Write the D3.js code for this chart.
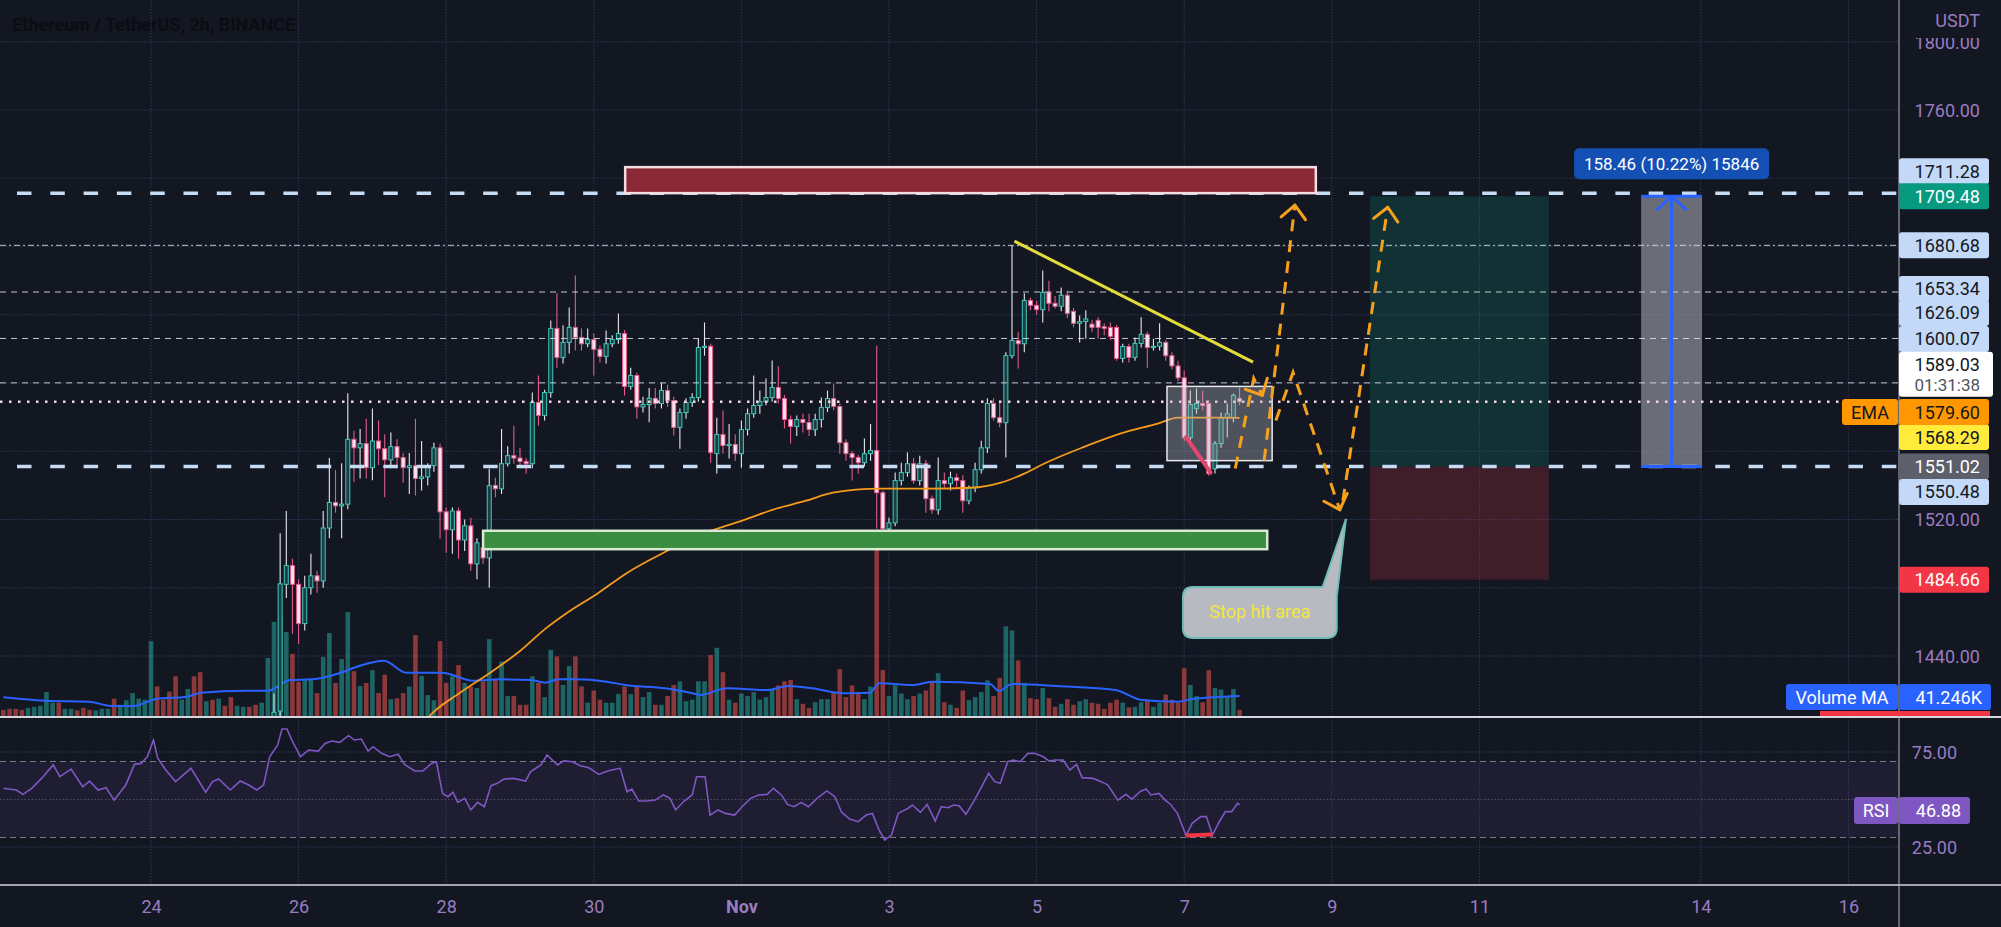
<!DOCTYPE html>
<html><head><meta charset="utf-8">
<script src="https://cdn.jsdelivr.net/npm/d3@7"></script>
<style>html,body{margin:0;padding:0;background:#131722;overflow:hidden}svg{display:block}text{font-family:Roboto,'Noto Sans',sans-serif}</style>
</head><body><svg id="c" width="2001" height="927"></svg>
<script>
// ---------------- DATA ----------------
const title = "Ethereum / TetherUS, 2h, BINANCE";
const startDate = "2022-10-22T00:00:00Z";   // first 2h bar (index 0)
const candleStart = 44;                      // first bar whose candle is inside the visible price range
// [open, high, low, close] for bars 44..201
const candles = [
[1390,1418,1385,1407],[1407.7,1512,1402,1482.3],[1482,1525,1474,1493],[1493,1497,1453,1482],[1482,1485,1447,1459],
[1459,1487,1455,1480],[1480,1500,1476,1487],[1487,1490,1477,1484],[1484,1525,1480,1515],[1515,1556,1509,1530],
[1530,1549,1524,1528],[1528,1553,1509,1529],[1529,1594,1526,1567],[1567,1572,1542,1562],[1562,1573,1544,1564.5],
[1564.5,1579,1544,1550.4],[1550.4,1585,1543,1566],[1566,1578,1552,1561.5],[1561.5,1570,1533,1555],[1555,1571,1550,1562.7],
[1562.7,1567,1550,1556.3],[1556.3,1559,1541.6,1550.4],[1550.4,1559,1535,1551.5],[1551.5,1579,1534,1544],[1544,1566,1537,1545],
[1545,1553,1540,1551.6],[1551.6,1565,1548,1562],[1562,1564.5,1508.7,1524.5],[1524.5,1527,1500.5,1514],[1514,1527,1500,1525],
[1525,1527,1497,1508],[1508,1520,1501.6,1516.3],[1516.3,1521,1490,1494],[1494,1509,1485,1506.3],[1503.4,1506,1494,1497.5],
[1497.5,1549.8,1480,1539.8],[1540,1544.5,1533,1538],[1538,1573,1535,1552.7],[1552.7,1563,1551,1557.4],[1557.4,1575,1552.7,1556],
[1556,1562,1550,1554],[1554,1556,1547,1552.7],[1552.7,1594.4,1550,1588.6],[1588.6,1604.4,1575,1581],[1581,1596,1578,1594.4],
[1594.4,1636.7,1591.5,1632],[1632,1652.6,1609,1615],[1615,1633.8,1611.4,1623.8],[1623.8,1644.3,1617.3,1632.6],[1632.6,1663,1619,1626.7],
[1626.7,1632,1619,1623],[1623,1632,1621,1625.5],[1625.5,1629,1604.4,1619.7],[1619.7,1622,1612,1615.6],[1615.6,1630.8,1611.4,1623],
[1623,1628,1621,1625.5],[1625.5,1640.8,1623,1629],[1629,1631,1592.7,1598],[1598,1609,1596,1604.4],[1604.4,1606,1579,1586],
[1586,1592,1582.7,1587.4],[1587.4,1597,1577,1591],[1591,1597,1585,1588],[1588,1600,1585,1595.6],[1595.6,1599,1586,1589.7],
[1589.7,1592,1569.2,1574],[1574,1585,1561.5,1582.7],[1582.7,1591,1579,1588.6],[1588.6,1594,1586,1591.5],[1591.5,1626,1589,1620.8],
[1620.8,1635.5,1616,1621.5],[1621.5,1623,1553.3,1559.2],[1558.6,1579.7,1546.9,1569.8],[1569.8,1583.9,1558.6,1563.3],[1563.3,1576,1555.7,1564],
[1564,1570,1554.5,1558.6],[1558.6,1578,1550.4,1572.7],[1572.7,1585,1569.2,1582],[1582,1604.4,1579.7,1586.8],[1586.8,1595.6,1582,1589.1],
[1589.1,1602.6,1587,1591.5],[1591.5,1613.2,1589,1597.4],[1597.4,1610,1588,1590.9],[1590.9,1593,1573.3,1578.6],[1578.6,1581,1564.5,1574.5],
[1574.5,1581,1569,1578.6],[1578.6,1582,1571,1576.8],[1576.8,1582,1569,1572.7],[1572.7,1582,1569,1578.6],[1578.6,1591.5,1573.9,1585.6],
[1585.6,1595.6,1583,1590.9],[1590.9,1599.7,1584,1586.2],[1586.2,1588,1558.6,1565],[1565,1567,1554.5,1558.6],[1558.6,1560,1542.8,1556.3],
[1556.3,1558,1546.9,1553.3],[1553.3,1567.4,1551,1558.6],[1558.6,1576,1554.5,1560.4],[1560.4,1622,1514.6,1535.7],[1535.7,1537,1511.6,1514.6],
[1514.6,1521,1507.5,1518],[1518,1547.5,1516,1542.8],[1542.8,1553.3,1540,1547.5],[1547.5,1559.2,1545,1552.7],[1552.7,1556,1541,1542.8],
[1542.8,1557.4,1540,1552.7],[1552.7,1555,1524,1532.2],[1532.2,1534,1523.4,1525.7],[1525.7,1556.3,1523,1542.8],[1542.8,1547.5,1538.6,1541],
[1541,1548,1537,1544.5],[1544.5,1547,1539,1542.8],[1542.8,1546,1524,1531],[1531,1540,1529,1538.6],[1538.6,1553.3,1536,1549.2],
[1549.2,1566.2,1547,1562],[1562,1591,1559,1588],[1588,1591,1578,1579.7],[1579.7,1589.7,1574,1576.8],[1576.8,1618,1556.3,1616],
[1616,1680.7,1614.4,1624.9],[1624.9,1630,1608.5,1623],[1623,1652.6,1618,1648.4],[1648.4,1650,1642.6,1645.5],[1645.5,1648,1640,1643],
[1643,1666,1635.5,1653.1],[1653.1,1660,1642,1646.7],[1646.7,1651,1643.7,1645],[1645,1656,1642,1651.4],[1651.4,1654,1637.9,1640.8],
[1642,1644,1632.6,1635],[1635,1639.6,1623.8,1636],[1636,1642.6,1626,1637.5],[1634.5,1637,1630,1632.6],[1636.7,1638.5,1626,1632.6],
[1633,1635,1628,1632],[1632.6,1635.5,1625,1627.3],[1632.6,1634,1613,1614.4],[1614.4,1623,1612,1621.4],[1621.4,1623,1612,1615],
[1615,1626.7,1613,1623.2],[1623.2,1638.5,1620.8,1628.5],[1628.5,1630,1609,1620.8],[1620.8,1626,1619,1621.5],[1621.5,1635,1619,1623.8],
[1623.8,1625,1613,1616],[1616,1618,1608,1610],[1610,1613,1601,1603],[1603,1607.3,1566,1568],[1568,1595.6,1564.5,1587.4],
[1585,1596.8,1582,1588],[1588,1595.6,1584,1586.8],[1588,1590,1545.7,1546.9],[1549.8,1566,1546.9,1564.5],[1564.5,1582.7,1562,1579.7],
[1579.7,1588,1568,1582],[1579.7,1593.8,1577,1592.7],[1591,1597.4,1587,1589]
];
// volume per bar (thousands), bars 0..201
const volumes = [14,16,16,14,18,20,22,49,28,28,16,16,13,18,14,13,16,16,36,24,33,47,36,34,149,60,34,50,80,34,
55,80,88,31,34,36,22,39,22,20,20,24,28,116,187,197,167,124,69,73,73,47,118,165,67,114,206,90,61,67,
92,47,83,35,37,47,60,161,81,43,33,149,67,80,102,67,60,57,70,153,73,109,41,41,24,24,80,67,39,132,
119,63,100,119,60,28,52,34,28,28,45,60,45,60,39,49,24,24,41,63,70,31,34,70,70,122,136,88,34,28,
46,41,49,34,39,55,62,70,73,35,26,18,29,35,35,47,94,39,62,49,35,60,352,92,41,62,46,35,41,46,
52,70,86,29,24,18,52,33,39,49,72,41,77,178,170,111,67,37,35,57,37,20,26,35,24,31,35,28,26,16,
28,34,28,19,20,29,34,20,28,44,34,28,96,63,41,29,92,57,54,39,55,14];
// direction (1 = up) of bars 0..43 whose candles lie below the visible range
const earlyUp = [0,0,0,0,1,1,1,1,1,0,1,1,0,0,0,1,1,1,0,1,1,1,1,1,1,0,0,0,0,1,1,0,0,1,0,1,0,0,1,1,0,0,1,1];
// Volume MA (bar index, thousands)
const volMAIdx = [0,3,6.8,13.9,17.7,21.2,24.8,29.9,32.1,39.4,43,46.6,50.2,54.6,57.5,61.9,65.5,71.3,76.4,80.7,85.8,88.1,90.2,93.1,98.1,101.1,107.6,112,113.3,117.7,124.2,127.7,131.5,136.5,140.9,142.4,148.1,151,160.4,161.9,164,171.3,180.8,185.1,191,193.1,196.7,201];
const volMAVal = [38.7,35.4,32,30,21.6,21.6,35.4,39.9,47.7,51.7,51.7,72.7,74,85.9,98.8,110.6,87,87,71.3,74,72.7,67.4,74,74,69.4,62.9,56.4,46.6,43.2,56.4,53,60.9,56.4,46.6,47.7,66.2,62.9,69.4,64.8,51.1,64.8,60.9,53,33.4,30,34.8,38.7,41.2];
// EMA (bar index, price)
const emaIdx = [68,69,74.2,79.1,84,88.1,92.1,96.5,101.4,108.9,113.3,115.5,120.6,125.6,130.5,134.9,142.4,149.9,157.3,162.2,166,169.2,175.4,181.6,187.7,191,197.2,201];
const emaVal = [1399,1403.6,1418.3,1430,1442.9,1455.9,1466.4,1476.4,1488.7,1503.4,1511.6,1514,1519.9,1526.3,1531,1535.7,1538.1,1538.1,1538.6,1541.6,1546.9,1552.7,1562.1,1570.3,1576.2,1579.7,1579.7,1579.6];
// RSI (bar index, value)
const rsiIdx = [0,0.8,2.1,3.2,4.6,6.2,8.1,9.2,11.0,12.9,14.0,15.4,16.7,18.0,19.9,21.3,22.4,23.4,24.4,25.1,26.4,28.0,30.5,32.9,34.0,35.0,36.9,38.5,39.9,41.2,42.3,43.3,44.6,45.3,46.1,46.9,48.3,49.6,51.2,52.3,53.4,54.7,56.1,57.1,58.2,59.3,60.1,61.5,62.8,64.2,65.2,66.9,68.2,69.6,70.4,71.4,72.3,73.1,73.9,75.0,76.0,77.1,78.2,79.3,80.3,81.4,83.0,84.9,85.7,87.4,88.4,90.1,91.1,92.5,93.8,95.2,96.8,97.9,98.9,100.3,101.4,102.2,103.3,104.6,106.0,107.3,108.4,109.3,110.7,112.0,112.7,114.1,114.9,116.2,117.4,118.9,120.1,121.5,122.8,124.2,125.2,126.5,127.5,128.6,129.7,130.9,132.3,133.9,135.2,136.3,137.6,139.0,140.3,141.3,142.4,143.3,144.4,145.5,147.1,147.8,149.1,150.2,151.5,152.5,153.6,154.5,155.4,156.5,157.9,159.2,160.2,161.2,162.1,163.3,164.2,165.3,166.6,167.7,169.1,170.0,171.0,172.3,173.4,174.5,175.4,177.2,178.5,179.6,181.2,182.5,183.5,184.8,185.8,186.6,187.9,188.9,189.8,190.9,192.3,193.3,194.7,195.6,196.6,197.7,198.7,199.7,200.7,201];
const rsiVal = [55.9,55.5,55.0,52.7,55.9,61.1,68.2,62.0,66.0,56.7,59.7,55.0,56.2,49.7,57.6,68.5,69.0,72.5,81.3,71.7,65.5,59.4,66.4,53.8,59.4,60.8,55.0,59.7,57.6,55.0,57.6,72.5,78.7,87.1,87.1,81.3,72.5,76.0,75.5,79.5,80.8,80.1,83.6,81.3,81.8,75.5,77.8,74.3,72.5,73.8,68.5,65.0,65.0,69.0,69.9,53.2,51.5,53.8,48.5,50.6,44.5,48.5,46.2,57.3,58.5,60.8,61.1,59.7,64.6,68.2,73.4,68.2,70.3,69.9,67.8,66.7,63.2,64.6,65.5,66.4,54.1,55.5,49.2,49.2,49.7,52.4,50.6,44.5,49.2,52.4,62.0,62.0,41.8,44.5,42.7,41.8,46.2,50.6,52.4,52.7,55.9,52.4,47.4,46.2,48.5,46.2,50.6,54.5,51.5,43.3,39.7,38.3,41.8,42.7,33.9,28.7,31.3,42.7,45.4,47.1,43.2,47.4,38.7,46.2,45.7,47.1,46.7,42.2,49.7,57.6,63.8,59.4,58.5,69.9,70.8,69.9,74.3,74.3,72.5,70.3,70.8,70.8,65.5,68.5,61.5,61.1,59.4,57.6,49.7,52.7,50.2,54.1,55.5,52.4,53.2,49.7,47.4,42.7,31.0,37.5,41.0,41.0,31.3,38.3,43.6,43.6,48.0,47.1];
const rsiDivergence = [[192.3,31.0],[196.6,31.6]];
// axes
const priceTicks = [1800,1760,1520,1440];
const gridPrices = [1440,1480,1520,1560,1600,1640,1680,1720,1760,1800];
const rsiTicks = [75,25];
const dateTicks = ["2022-10-24","2022-10-26","2022-10-28","2022-10-30","2022-11-01","2022-11-03","2022-11-05","2022-11-07","2022-11-09","2022-11-11","2022-11-14","2022-11-16"];
const dateLabels = ["24","26","28","30","Nov","3","5","7","9","11","14","16"];
// horizontal levels
const thinLevels = [1680.68,1653.34,1626.09,1600.07];
const thickLevels = [1711.28,1551.02];
const lastPrice = 1589.03;
const countdown = "01:31:38";
// drawings (bar index / price)
const resistZone = [101.1,213.4,1711.28,1726.5];
const supportZone = [78.0,205.5,1502.6,1513.4];
const consolBox = [189.2,206.3,1554.5,1598];
const trendLine = [[164.4,1683.1],[203.2,1612.2]];
const dropLine = [[192.3,1568.3],[196.3,1547.5]];
const longPos = {i0:222.2,i1:251.3,entry:1551.02,target:1709.48,stop:1484.66};
const measure = {i0:266.3,i1:276.2,from:1551.02,to:1709.48,text:"158.46 (10.22%) 15846"};
const forecast = [
  [[200.3,1549.9],[203.3,1602.7],[204.7,1592.7]],
  [[205.0,1554.5],[210.0,1704.2]],
  [[206.9,1578],[209.7,1606.2],[217.3,1525.7]],
  [[217.8,1531],[225.1,1703]]
];
const callout = {i0:191.8,i1:216.8,pTop:1480.5,pBot:1450.6,tip:[218.3,1520.3],text:"Stop hit area"};
// right-axis labels
const axisMarks = [
 {p:1711.28,dy:-22,bg:"#c3d9f7",fg:"#131722"},
 {p:1709.48,dy:0,bg:"#089981",fg:"#ffffff"},
 {p:1680.68,dy:0,bg:"#c3d9f7",fg:"#131722"},
 {p:1653.34,dy:-3,bg:"#c3d9f7",fg:"#131722"},
 {p:1626.09,dy:-25.5,bg:"#c3d9f7",fg:"#131722"},
 {p:1600.07,dy:-44,bg:"#c3d9f7",fg:"#131722"},
 {p:1568.29,dy:0,bg:"#ffeb3b",fg:"#131722"},
 {p:1551.02,dy:0,bg:"#5d606b",fg:"#ffffff"},
 {p:1550.48,dy:24.5,bg:"#c3d9f7",fg:"#131722"},
 {p:1484.66,dy:0,bg:"#f23645",fg:"#ffffff"}
];
const emaLast = 1579.60, volMALast = "41.246K", rsiLast = 46.88;

// ---------------- SCALES ----------------
const W=2001,H=927,AX=1899,MAINB=716,RSIT=718,RSIB=884;
const T0 = new Date(startDate).getTime(), H2 = 7200000;
const x = d3.scaleUtc().domain([new Date(T0), new Date("2022-11-16T00:00:00Z")]).range([3.4,1848.4]);
const xi = i => x(new Date(T0 + i*H2));
const y = d3.scaleLinear().domain([1440,1760]).range([656,110]);
const yv = d3.scaleLinear().domain([0,400]).range([717,513.4]);
const yr = d3.scaleLinear().domain([25,75]).range([847,752]);

const svg = d3.select('#c');
svg.append('rect').attr('width',W).attr('height',H).attr('fill','#131722');
const defs = svg.append('defs');
defs.append('clipPath').attr('id','cm').append('rect').attr('x',0).attr('y',0).attr('width',AX).attr('height',MAINB);
defs.append('clipPath').attr('id','cr').append('rect').attr('x',0).attr('y',RSIT).attr('width',AX).attr('height',RSIB-RSIT);

const GRID='#30355a';
// grid
const gGrid = svg.append('g').attr('stroke',GRID).attr('stroke-dasharray','1.5,1.5').attr('stroke-width',1);
gGrid.selectAll('line.h').data(gridPrices).join('line').attr('x1',0).attr('x2',AX).attr('y1',d=>y(d)).attr('y2',d=>y(d)).attr('clip-path','url(#cm)');
gGrid.selectAll('line.r').data(rsiTicks).join('line').attr('class','r').attr('x1',0).attr('x2',AX).attr('y1',d=>yr(d)).attr('y2',d=>yr(d));
gGrid.selectAll('line.v').data(dateTicks).join('line').attr('class','v').attr('x1',d=>x(new Date(d+"T00:00:00Z"))).attr('x2',d=>x(new Date(d+"T00:00:00Z"))).attr('y1',0).attr('y2',885);

// RSI band
const gR = svg.append('g').attr('clip-path','url(#cr)');
gR.append('rect').attr('x',0).attr('width',AX).attr('y',yr(70)).attr('height',yr(30)-yr(70)).attr('fill','rgba(126,87,194,0.1)');
gR.selectAll('line.b').data([70,30]).join('line').attr('x1',0).attr('x2',AX).attr('y1',d=>yr(d)).attr('y2',d=>yr(d)).attr('stroke','#787b86').attr('stroke-dasharray','6,4');
gR.append('line').attr('x1',0).attr('x2',AX).attr('y1',yr(50)).attr('y2',yr(50)).attr('stroke','rgba(120,123,134,0.55)').attr('stroke-dasharray','1.5,2');

// main pane
const gM = svg.append('g').attr('clip-path','url(#cm)');
const isUp = i => i>=candleStart ? candles[i-candleStart][3]>=candles[i-candleStart][0] : earlyUp[i]===1;
gM.append('g').selectAll('rect').data(volumes.map((v,i)=>({i,v}))).join('rect')
  .attr('x',d=>xi(d.i)-2.3).attr('width',4.6).attr('y',d=>yv(d.v)).attr('height',d=>yv(0)-yv(d.v))
  .attr('fill',d=>isUp(d.i)?'rgba(38,166,154,0.55)':'rgba(239,83,80,0.55)');
gM.append('path').datum(volMAIdx.map((d,k)=>[d,volMAVal[k]]))
  .attr('d',d3.line().x(d=>xi(d[0])).y(d=>yv(d[1])).curve(d3.curveMonotoneX))
  .attr('fill','none').attr('stroke','#2962ff').attr('stroke-width',2);

const cd = candles.map((d,k)=>({i:candleStart+k,o:d[0],h:d[1],l:d[2],c:d[3]}));
const gC = gM.append('g');
gC.selectAll('line').data(cd).join('line').attr('x1',d=>xi(d.i)).attr('x2',d=>xi(d.i)).attr('y1',d=>y(d.h)).attr('y2',d=>y(d.l))
  .attr('stroke',d=>d.c>=d.o?'#e6e8ee':'#e05b8c').attr('stroke-width',1.1);
gC.selectAll('rect').data(cd).join('rect').attr('x',d=>xi(d.i)-2).attr('width',4)
  .attr('y',d=>y(Math.max(d.o,d.c))).attr('height',d=>Math.max(1,Math.abs(y(d.o)-y(d.c))))
  .attr('fill',d=>d.c>=d.o?'#1b3e44':'#fbe3ec').attr('stroke',d=>d.c>=d.o?'#3fcabb':'#e05b8c').attr('stroke-width',1);

gM.append('path').datum(emaIdx.map((d,k)=>[d,emaVal[k]]))
  .attr('d',d3.line().x(d=>xi(d[0])).y(d=>y(d[1])).curve(d3.curveMonotoneX))
  .attr('fill','none').attr('stroke','#f59b1c').attr('stroke-width',1.8);

// long position tool
gM.append('rect').attr('x',xi(longPos.i0)).attr('width',xi(longPos.i1)-xi(longPos.i0)).attr('y',y(longPos.target)).attr('height',y(longPos.entry)-y(longPos.target)).attr('fill','rgba(8,153,129,0.2)');
gM.append('rect').attr('x',xi(longPos.i0)).attr('width',xi(longPos.i1)-xi(longPos.i0)).attr('y',y(longPos.entry)).attr('height',y(longPos.stop)-y(longPos.entry)).attr('fill','rgba(242,54,69,0.2)');
// measure rect
gM.append('rect').attr('x',xi(measure.i0)).attr('width',xi(measure.i1)-xi(measure.i0)).attr('y',y(measure.to)).attr('height',y(measure.from)-y(measure.to)).attr('fill','rgba(160,163,172,0.62)');

// levels
gM.selectAll('line.t').data(thinLevels).join('line').attr('x1',0).attr('x2',AX).attr('y1',d=>y(d)).attr('y2',d=>y(d))
  .attr('stroke','rgba(225,228,235,0.85)').attr('stroke-width',1).attr('stroke-dasharray',(d,k)=>k===0?'6,3,2,3':'6,5');
gM.append('line').attr('x1',0).attr('x2',AX).attr('y1',y(lastPrice)).attr('y2',y(lastPrice)).attr('stroke','#f2d3de').attr('stroke-width',2.5).attr('stroke-dasharray','2.5,6.5');
gM.selectAll('line.k').data(thickLevels).join('line').attr('x1',-16.3).attr('x2',AX).attr('y1',d=>y(d)).attr('y2',d=>y(d))
  .attr('stroke','#c6dcf4').attr('stroke-width',3.5).attr('stroke-dasharray','14.5,18.8');

// zones
function zone(z,fill,stroke,sw){
  gM.append('rect').attr('x',xi(z[0])).attr('width',xi(z[1])-xi(z[0])).attr('y',y(z[3])).attr('height',y(z[2])-y(z[3]))
    .attr('fill',fill).attr('stroke',stroke).attr('stroke-width',sw);
}
zone(resistZone,'#8c2936','#f3dde1',2.5);
zone(supportZone,'#3b8d41','#d8ead2',2.5);
zone(consolBox,'rgba(175,178,186,0.38)','#e8e8ec',1.5);
const ln = d3.line().x(d=>xi(d[0])).y(d=>y(d[1]));
gM.append('path').datum(trendLine).attr('d',ln).attr('stroke','#e4dc3a').attr('stroke-width',3).attr('fill','none');
gM.append('path').datum(dropLine).attr('d',ln).attr('stroke','#e3476f').attr('stroke-width',4).attr('fill','none').attr('stroke-linecap','round');

// forecast
function chevron(p0,p1){
  const x0=xi(p0[0]),y0=y(p0[1]),x1=xi(p1[0]),y1=y(p1[1]);
  const a=Math.atan2(y0-y1,x0-x1), L=18, s=0.75;
  [a+s,a-s].forEach(b=>gM.append('line').attr('x1',x1).attr('y1',y1).attr('x2',x1+L*Math.cos(b)).attr('y2',y1+L*Math.sin(b))
    .attr('stroke','#f5a11c').attr('stroke-width',3).attr('stroke-linecap','round'));
}
forecast.forEach(f=>{
  gM.append('path').datum(f).attr('d',ln).attr('fill','none').attr('stroke','#f5a11c').attr('stroke-width',3).attr('stroke-dasharray','12,9');
  chevron(f[f.length-2],f[f.length-1]);
});

// callout
{
  const x0=xi(callout.i0),x1=xi(callout.i1),y0=y(callout.pTop),y1=y(callout.pBot),r=10;
  const tx=xi(callout.tip[0]),ty=y(callout.tip[1]);
  const p=d3.path();
  p.moveTo(x0+r,y0); p.lineTo(x1-14,y0); p.lineTo(tx,ty); p.lineTo(x1,y0+r);
  p.lineTo(x1,y1-r); p.quadraticCurveTo(x1,y1,x1-r,y1); p.lineTo(x0+r,y1); p.quadraticCurveTo(x0,y1,x0,y1-r);
  p.lineTo(x0,y0+r); p.quadraticCurveTo(x0,y0,x0+r,y0); p.closePath();
  gM.append('path').attr('d',p.toString()).attr('fill','rgba(196,200,206,0.93)').attr('stroke','#6fbdb8').attr('stroke-width',2);
  gM.append('text').attr('x',(x0+x1)/2).attr('y',(y0+y1)/2+6).attr('text-anchor','middle').attr('font-size',18).attr('fill','#f3e63f').text(callout.text);
}

// measure arrow
{
  const xa=xi(measure.i0),xb=xi(measure.i1),xc=(xa+xb)/2;
  gM.selectAll('line.m').data([measure.from,measure.to]).join('line').attr('x1',xa).attr('x2',xb).attr('y1',d=>y(d)).attr('y2',d=>y(d)).attr('stroke','#2962ff').attr('stroke-width',3);
  gM.append('line').attr('x1',xc).attr('x2',xc).attr('y1',y(measure.from)).attr('y2',y(measure.to)).attr('stroke','#2962ff').attr('stroke-width',3);
  [-1,1].forEach(s=>gM.append('line').attr('x1',xc).attr('y1',y(measure.to)).attr('x2',xc+s*15).attr('y2',y(measure.to)+14).attr('stroke','#2962ff').attr('stroke-width',3));
  const bw=195,bh=31,by=y(measure.to)-48;
  gM.append('rect').attr('x',xc-bw/2).attr('y',by).attr('width',bw).attr('height',bh).attr('rx',5).attr('fill','#1450b4');
  gM.append('text').attr('x',xc).attr('y',by+bh/2+6).attr('text-anchor','middle').attr('font-size',17).attr('fill','#ffffff').text(measure.text);
}

// RSI line
const gRL = svg.append('g').attr('clip-path','url(#cr)');
gRL.append('path').datum(rsiIdx.map((d,k)=>[d,rsiVal[k]])).attr('d',d3.line().x(d=>xi(d[0])).y(d=>yr(d[1])))
  .attr('fill','none').attr('stroke','#7e57c2').attr('stroke-width',1.6);
gRL.append('path').datum(rsiDivergence).attr('d',d3.line().x(d=>xi(d[0])).y(d=>yr(d[1]))).attr('stroke','#f23645').attr('stroke-width',4).attr('fill','none');

// frame lines
svg.append('line').attr('x1',0).attr('x2',W).attr('y1',717).attr('y2',717).attr('stroke','#d6d8de').attr('stroke-width',2);
svg.append('line').attr('x1',0).attr('x2',W).attr('y1',885).attr('y2',885).attr('stroke','#a3a6af').attr('stroke-width',2);
svg.append('line').attr('x1',AX).attr('x2',AX).attr('y1',0).attr('y2',H).attr('stroke','#b2b5be').attr('stroke-width',1);

// axes
const AXC='#9a7cc0';
const xAxis = d3.axisBottom(x).tickValues(dateTicks.map(d=>new Date(d+"T00:00:00Z"))).tickFormat((d,k)=>dateLabels[k]).tickSize(0);
const gx = svg.append('g').attr('transform','translate(0,0)').call(xAxis);
gx.select('.domain').remove();
gx.selectAll('text').attr('y',913).attr('dy',0).attr('font-size',18).attr('fill',AXC).attr('font-family','Roboto,sans-serif')
  .attr('font-weight',(d,k)=>dateLabels[k]==='Nov'?'bold':'normal');

const yAxis = d3.axisRight(y).tickValues(priceTicks).tickFormat(d3.format('.2f')).tickSize(0);
const gy = svg.append('g').attr('transform',`translate(${AX},0)`).call(yAxis);
gy.select('.domain').remove();
gy.selectAll('text').attr('x',81).attr('dy','0.35em').attr('text-anchor','end').attr('font-size',18).attr('fill',AXC).attr('font-family','Roboto,sans-serif');
svg.append('rect').attr('x',AX+1).attr('y',0).attr('width',W-AX).attr('height',38).attr('fill','#131722');
svg.append('text').attr('x',1980).attr('y',27).attr('text-anchor','end').attr('font-size',18).attr('fill',AXC).text('USDT');

const gRA = d3.axisRight(yr).tickValues(rsiTicks).tickFormat(d3.format('.2f')).tickSize(0);
const gra = svg.append('g').attr('transform',`translate(${AX},0)`).call(gRA);
gra.select('.domain').remove();
gra.selectAll('text').attr('x',58).attr('dy','0.35em').attr('text-anchor','end').attr('font-size',18).attr('fill',AXC).attr('font-family','Roboto,sans-serif');

// price labels
const gL = svg.append('g');
function box(x0,w,yc,h,bg,txt,fg,anchor){
  gL.append('rect').attr('x',x0).attr('y',yc-h/2).attr('width',w).attr('height',h).attr('rx',3).attr('fill',bg);
  gL.append('text').attr('x',anchor==='middle'?x0+w/2:x0+w-9).attr('y',yc+6.5).attr('text-anchor',anchor||'end').attr('font-size',18).attr('fill',fg).text(txt);
}
axisMarks.forEach(m=>box(AX,90,y(m.p)+m.dy,26,m.bg,m.p.toFixed(2),m.fg));
box(AX,90,y(emaLast)-5.8,26,'#ff9800',emaLast.toFixed(2),'#131722');
box(1842,56,y(emaLast)-5.8,26,'#ff9800','EMA','#131722','middle');
// last price (two lines), drawn above its neighbours
{
  const yc=y(lastPrice)-37;
  gL.append('rect').attr('x',AX).attr('y',yc-13).attr('width',94).attr('height',45).attr('rx',3).attr('fill','#ffffff');
  gL.append('text').attr('x',1980).attr('y',yc+6.5).attr('text-anchor','end').attr('font-size',18).attr('fill','#131722').text(lastPrice.toFixed(2));
  gL.append('text').attr('x',1980).attr('y',yc+26.5).attr('text-anchor','end').attr('font-size',17).attr('fill','#50535e').text(countdown);
}
box(AX,92,yv(41.246)+1,26,'#2962ff',volMALast,'#ffffff');
box(1786,112,yv(41.246)+1,26,'#2962ff','Volume MA','#ffffff','middle');
gL.append('rect').attr('x',1820).attr('y',711).attr('width',170).attr('height',5).attr('fill','#f23645');
box(AX,71,yr(rsiLast)+5,27,'#7e57c2',rsiLast.toFixed(2),'#ffffff');
box(1854,44,yr(rsiLast)+5,27,'#7e57c2','RSI','#ffffff','middle');

// title
svg.append('text').attr('x',12).attr('y',31).attr('font-size',18).attr('font-weight','bold').attr('fill','#0b0d13').text(title);
</script></body></html>
